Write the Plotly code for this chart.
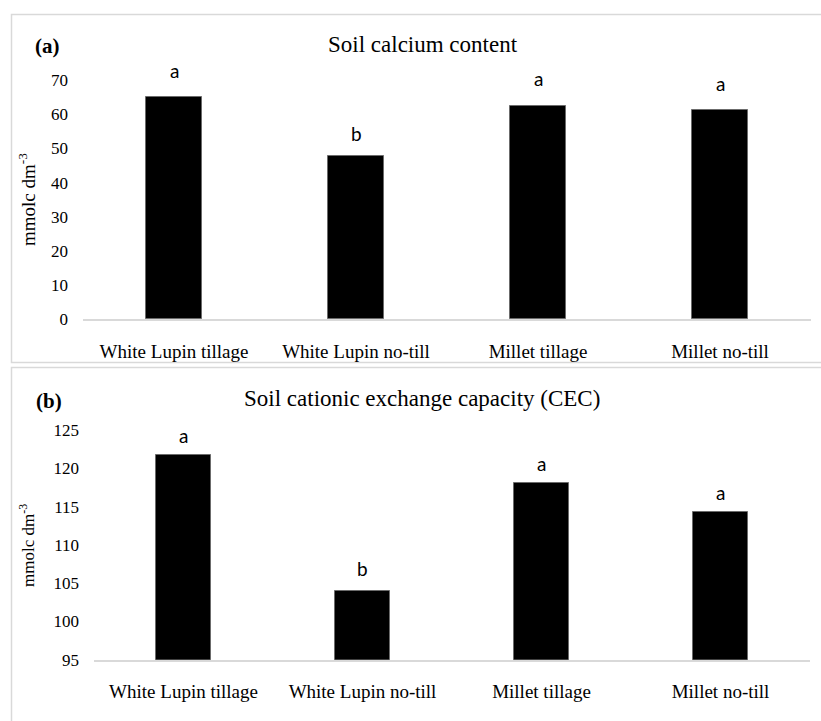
import plotly.graph_objects as go

# Treatments (shared by both panels)
treatments = ["White Lupin tillage", "White Lupin no-till", "Millet tillage", "Millet no-till"]

# (a) Soil calcium content, mmolc dm-3
calcium = [65.0, 47.7, 62.4, 61.1]
calcium_groups = ["a", "b", "a", "a"]
calcium_ticks = [0, 10, 20, 30, 40, 50, 60, 70]

# (b) Soil cationic exchange capacity (CEC), mmolc dm-3
cec = [121.8, 104.0, 118.1, 114.3]
cec_groups = ["a", "b", "a", "a"]
cec_ticks = [95, 100, 105, 110, 115, 120, 125]

W, H = 821, 721


def px_x(p):
    return p / W


def px_y(p):
    return 1 - p / H


SERIF = "Liberation Serif, Times New Roman, serif"
SANS = "Lato, Noto Sans, sans-serif"

fig = go.Figure()

bar_style = dict(marker=dict(color="black", line=dict(color="#6b6b6b", width=1)),
                 width=0.31, showlegend=False, hoverinfo="x+y")

fig.add_trace(go.Bar(x=treatments, y=calcium, xaxis="x", yaxis="y", **bar_style))
fig.add_trace(go.Bar(x=treatments, y=cec, xaxis="x2", yaxis="y2", **bar_style))

xcommon = dict(type="category", showgrid=False, zeroline=False, showline=True,
               linecolor="#d9d9d9", linewidth=1.5, ticks="", range=[-0.5, 3.5],
               automargin=False, tickfont=dict(family=SERIF, size=19, color="black"))
ycommon = dict(showgrid=False, zeroline=False, showline=False, ticks="",
               automargin=False, tickfont=dict(family=SERIF, size=17, color="black"))

fig.update_layout(
    template="none",
    width=W, height=H,
    margin=dict(l=0, r=0, t=0, b=0, pad=0, autoexpand=False),
    font=dict(color="black"),
    paper_bgcolor="white", plot_bgcolor="white",
    bargap=0,
    xaxis=dict(domain=[px_x(83), px_x(811)], anchor="y", ticklabelstandoff=14, **xcommon),
    yaxis=dict(domain=[px_y(319.3), px_y(80)], anchor="x", range=[0, 70],
               tickvals=calcium_ticks, ticklabelstandoff=14, **ycommon),
    xaxis2=dict(domain=[px_x(94), px_x(810)], anchor="y2", ticklabelstandoff=14, **xcommon),
    yaxis2=dict(domain=[px_y(659.7), px_y(430)], anchor="x2", range=[95, 125],
                tickvals=cec_ticks, ticklabelstandoff=14, **ycommon),
)

# Panel frames
frame = dict(type="rect", xref="paper", yref="paper",
             line=dict(color="#d9d9d9", width=1.5), fillcolor="rgba(0,0,0,0)", layer="below")
fig.add_shape(x0=px_x(11.5), x1=px_x(830), y0=px_y(362.5), y1=px_y(14.5), **frame)
fig.add_shape(x0=px_x(11.5), x1=px_x(830), y0=px_y(735), y1=px_y(367.5), **frame)

ann = []
# Panel tags and titles
ann.append(dict(text="<b>(a)</b>", x=px_x(47), y=px_y(46), font=dict(family=SERIF, size=21)))
ann.append(dict(text="<b>(b)</b>", x=px_x(49), y=px_y(401), font=dict(family=SERIF, size=21)))
ann.append(dict(text="Soil calcium content", x=px_x(422.5), y=px_y(45), font=dict(family=SERIF, size=23)))
ann.append(dict(text="Soil cationic exchange capacity (CEC)", x=px_x(422), y=px_y(398),
                font=dict(family=SERIF, size=23)))
# Y-axis titles
ann.append(dict(text="mmolc dm<sup>-3</sup>", x=px_x(27), y=px_y(200), textangle=-90,
                font=dict(family=SERIF, size=19)))
ann.append(dict(text="mmolc dm<sup>-3</sup>", x=px_x(27), y=px_y(546), textangle=-90,
                font=dict(family=SERIF, size=17)))
for a in ann:
    a["font"]["color"] = "black"
    a.update(xref="paper", yref="paper", showarrow=False, xanchor="center", yanchor="middle")

# Significance letters above the bars
for t, v, g in zip(treatments, calcium, calcium_groups):
    ann.append(dict(text=g, x=t, y=v, xref="x", yref="y", showarrow=False,
                    yanchor="middle", yshift=27 if g == "a" else 23,
                    font=dict(family=SANS, size=19, color="black")))
for t, v, g in zip(treatments, cec, cec_groups):
    ann.append(dict(text=g, x=t, y=v, xref="x2", yref="y2", showarrow=False,
                    yanchor="middle", yshift=19 if g == "a" else 22,
                    font=dict(family=SANS, size=19, color="black")))

fig.update_layout(annotations=ann)

fig.write_html("out.html")
